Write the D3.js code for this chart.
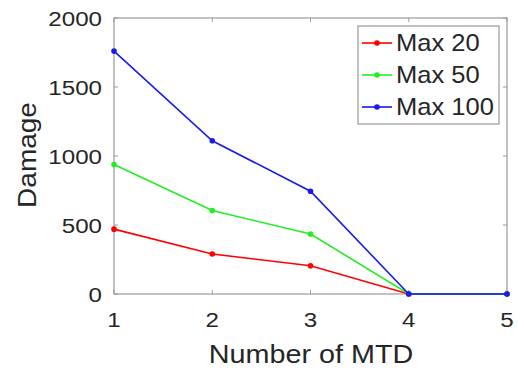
<!DOCTYPE html>
<html><head><meta charset="utf-8">
<script src="https://cdn.jsdelivr.net/npm/d3@7"></script>
<style>body{margin:0;background:#fff}svg{display:block}text{font-family:"Liberation Sans",Arial,sans-serif;fill:#262626}</style>
</head><body><svg id="c" width="518" height="371"></svg>
<script>
const xValues = [1, 2, 3, 4, 5];
const max20 = [470, 290, 205, 0, 0];
const max50 = [938, 605, 435, 0, 0];
const max100 = [1760, 1110, 745, 0, 0];
const seriesNames = ["Max 20", "Max 50", "Max 100"];
const seriesColors = ["#ff0000", "#22ee22", "#1a1aee"];
const yTicks = [0, 500, 1000, 1500, 2000];
const xTicks = [1, 2, 3, 4, 5];

const svg = d3.select("#c");
const L = 114, R = 507, T = 18, B = 294;
const x = d3.scaleLinear().domain([1, 5]).range([L, R]);
const y = d3.scaleLinear().domain([0, 2000]).range([B, T]);
const axisColor = "#9a9a9a";
const SX = 1.15;

// box
svg.append("rect").attr("x", L).attr("y", T).attr("width", R - L).attr("height", B - T)
  .attr("fill", "none").attr("stroke", axisColor).attr("stroke-width", 1.2);

// ticks (inward, mirrored)
const tk = 4;
xTicks.forEach(v => {
  svg.append("line").attr("x1", x(v)).attr("x2", x(v)).attr("y1", B).attr("y2", B - tk).attr("stroke", axisColor);
  svg.append("line").attr("x1", x(v)).attr("x2", x(v)).attr("y1", T).attr("y2", T + tk).attr("stroke", axisColor);
  svg.append("text").attr("transform", `translate(${x(v)},327) scale(${SX},1)`)
    .attr("text-anchor", "middle").attr("font-size", 21).text(v);
});
yTicks.forEach(v => {
  svg.append("line").attr("x1", L).attr("x2", L + tk).attr("y1", y(v)).attr("y2", y(v)).attr("stroke", axisColor);
  svg.append("line").attr("x1", R).attr("x2", R - tk).attr("y1", y(v)).attr("y2", y(v)).attr("stroke", axisColor);
  svg.append("text").attr("transform", `translate(102,${y(v) + 7.5}) scale(${SX},1)`)
    .attr("text-anchor", "end").attr("font-size", 21).text(v);
});

// axis labels
svg.append("text").attr("transform", `translate(311,363) scale(${SX},1)`)
  .attr("text-anchor", "middle").attr("font-size", 25).text("Number of MTD");
svg.append("text").attr("transform", `translate(36,155) rotate(-90) scale(1.12,1)`)
  .attr("text-anchor", "middle").attr("font-size", 25).text("Damage");

// series
const allSeries = [max20, max50, max100];
const line = d3.line().x((d, i) => x(xValues[i])).y(d => y(d));
allSeries.forEach((s, k) => {
  svg.append("path").datum(s).attr("d", line).attr("fill", "none")
    .attr("stroke", seriesColors[k]).attr("stroke-width", 1.6);
  svg.selectAll(null).data(s).enter().append("circle")
    .attr("cx", (d, i) => x(xValues[i])).attr("cy", d => y(d)).attr("r", 2.8)
    .attr("fill", seriesColors[k]);
});

// legend
const lg = svg.append("g");
lg.append("rect").attr("x", 358).attr("y", 26).attr("width", 141).attr("height", 98)
  .attr("fill", "#fff").attr("stroke", axisColor).attr("stroke-width", 1.2);
seriesNames.forEach((n, k) => {
  const cy = 43 + k * 32;
  lg.append("line").attr("x1", 362).attr("x2", 392).attr("y1", cy).attr("y2", cy)
    .attr("stroke", seriesColors[k]).attr("stroke-width", 1.6);
  lg.append("circle").attr("cx", 377).attr("cy", cy).attr("r", 2.8).attr("fill", seriesColors[k]);
  lg.append("text").attr("transform", `translate(396,${cy + 8.3}) scale(1.11,1)`)
    .attr("font-size", 23).text(n);
});
</script></body></html>
